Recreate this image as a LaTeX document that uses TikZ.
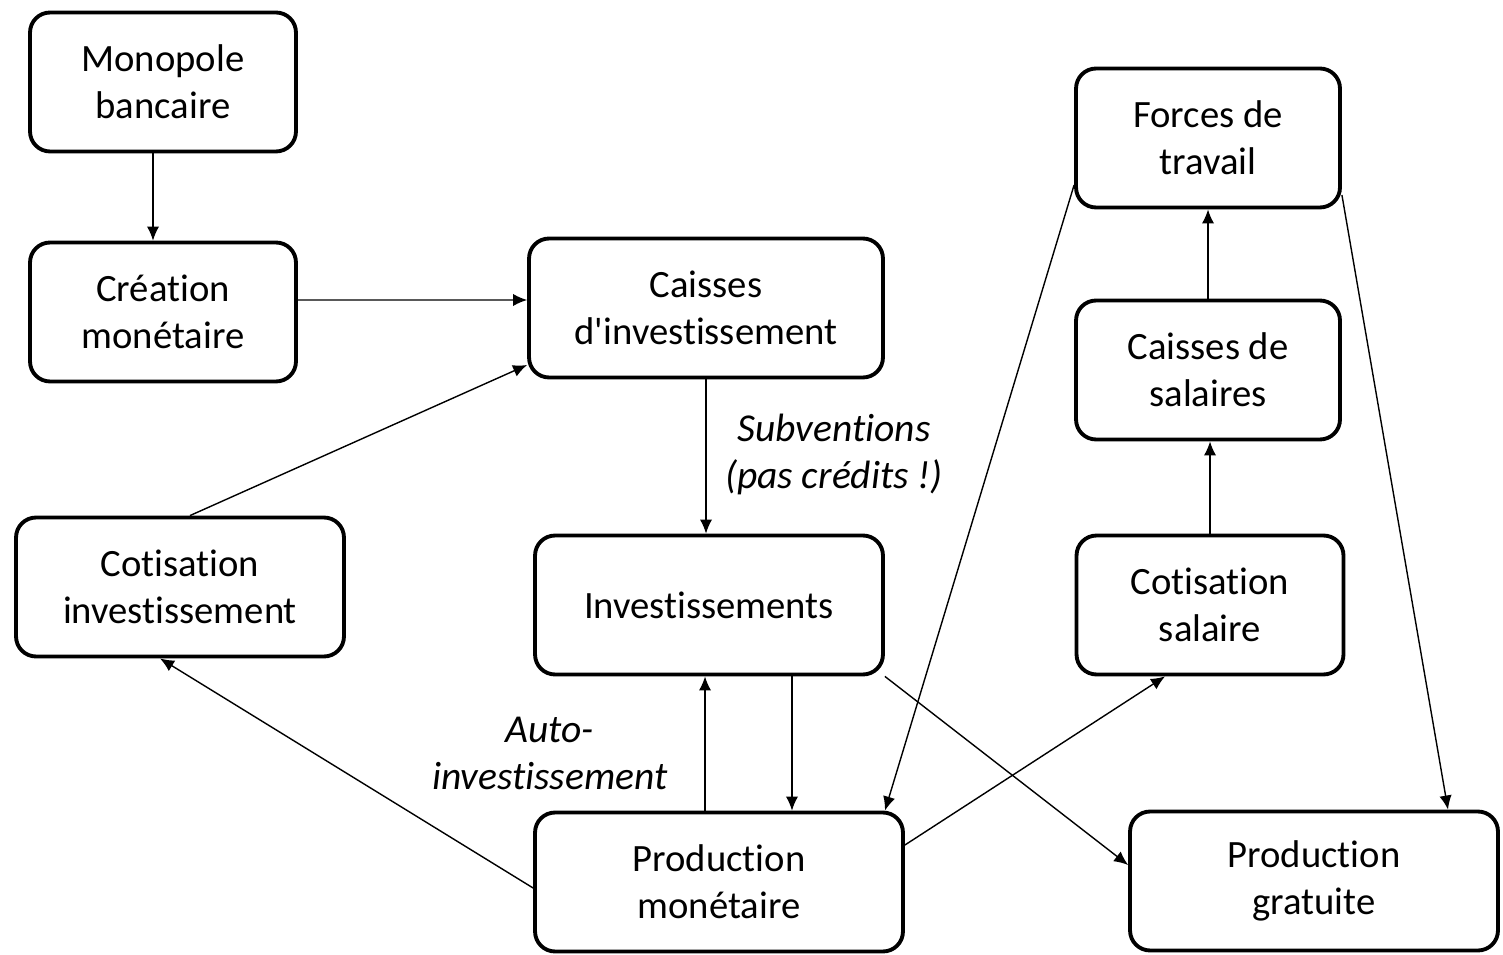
\documentclass[tikz,border=0pt]{standalone}
\usepackage{fontspec}
\setmainfont{Carlito}[Ligatures={TeXOff,NoCommon}]
\usetikzlibrary{arrows.meta}
\tikzset{
    boite/.style={draw,line width=2.2pt,rounded corners=0.4cm,align=center,
        minimum height=2.78cm,font=\fontsize{22}{26.7}\selectfont},
    lbl/.style={align=center,font=\fontsize{22.5}{26.7}\selectfont\itshape},
    >={Latex[length=8pt,width=7pt]}
}

\begin{document}
\begin{tikzpicture}[x=0.02cm,y=-0.02cm]
            \useasboundingbox (0,0) rectangle (1503,955);
            \node[boite,minimum width=5.32cm] (mono) at (163,82) {Monopole\\bancaire};
            \node[boite,minimum width=5.32cm] (creation) at (163,312) {Création\\monétaire};
            \node[boite,minimum width=7.08cm] (caissinv) at (706,308) {Caisses\\d'investissement};
            \node[boite,minimum width=6.56cm] (cotinv) at (180,587) {Cotisation\\investissement};
            \node[boite,minimum width=6.96cm] (invest) at (709,605) {Investissements};
            \node[boite,minimum width=7.36cm] (prodmon) at (719,882) {Production\\monétaire};
            \node[boite,minimum width=5.28cm] (forces) at (1208,138) {Forces de\\travail};
            \node[boite,minimum width=5.28cm] (caisal) at (1208,370) {Caisses de\\salaires};
            \node[boite,minimum width=5.34cm] (cotsal) at (1210,605) {Cotisation\\salaire};
            \node[boite,minimum width=7.36cm] (prodgrat) at (1314,881) {Production\\gratuite};

            \begin{scope}[line width=0.8pt]
                \draw[->] ([xshift=-0.2cm]mono.south)--([xshift=-0.2cm]creation.north);
                \draw[->] ([yshift=0.24cm]creation.east)--([yshift=0.16cm]caissinv.west);
                \draw[->] ([xshift=0.2cm]cotinv.north)--([yshift=-1.14cm]caissinv.west);
                \draw[->] (caissinv.south)--node[lbl,right=0.25cm,yshift=0.04cm]{Subventions\\(pas crédits !)}(caissinv.south |- invest.north);
                \draw[->] ([xshift=-0.28cm]prodmon.north)--node[lbl,left=0.62cm,yshift=-0.2cm]{Auto-\\investissement}([xshift=-0.28cm]prodmon.north |- invest.south);
                \draw[->] ([xshift=1.66cm]invest.south)--([xshift=1.66cm]invest.south |- prodmon.north);
                \draw[->] ([yshift=-0.12cm]prodmon.west)--([xshift=-0.4cm]cotinv.south);
                \draw[->] ([yshift=0.74cm]prodmon.east)--([xshift=-0.9cm]cotsal.south);
                \draw[->] (invest.south east)--([yshift=0.32cm]prodgrat.west);
                \draw[->] ([yshift=-0.94cm]forces.west)--([xshift=3.32cm]prodmon.north);
                \draw[->] ([yshift=-1.14cm]forces.east)--([xshift=2.68cm]prodgrat.north);
                \draw[->] (cotsal.north)--(cotsal.north |- caisal.south);
                \draw[->] (caisal.north)--(caisal.north |- forces.south);
            \end{scope}
        \end{tikzpicture}
\end{document}
